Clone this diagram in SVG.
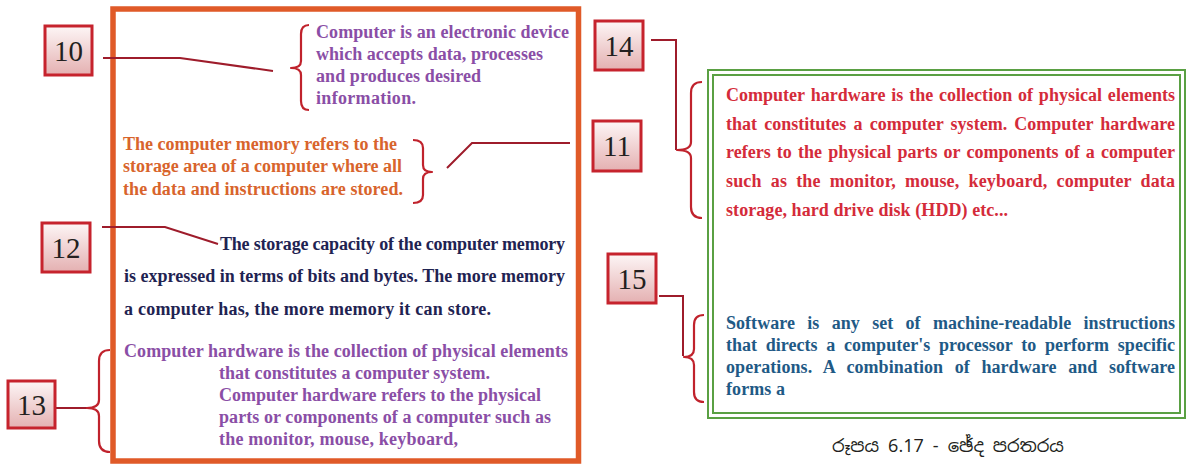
<svg xmlns="http://www.w3.org/2000/svg" width="1187" height="466" viewBox="0 0 1187 466">
<defs>
<linearGradient id="numGrad" x1="0" y1="0" x2="0" y2="1">
<stop offset="0" stop-color="#fdf6f6"/>
<stop offset="1" stop-color="#e4b0b1"/>
</linearGradient>
</defs>
<style>
.num rect {fill:url(#numGrad); stroke:#c6232d; stroke-width:3;}
.num text {font-family:"Liberation Serif", serif; font-size:29px; fill:#231f20; text-anchor:middle;}
.t {font-family:"Liberation Serif", serif; font-weight:bold; font-size:18px;}
.purple {fill:#8a4ea6;}
.orange {fill:#d8642c;}
.navy {fill:#1f2352;}
.red {fill:#d42b3a;}
.blue {fill:#1f5a86;}
.conn {fill:none; stroke:#9e1c2b; stroke-width:2;}
.brace {fill:none; stroke:#c0222c; stroke-width:2.2; stroke-linejoin:round;}
.frame {fill:none; stroke:#e05a28; stroke-width:5.5;}
.gframe {fill:none; stroke:#5aa043; stroke-width:2;}
.cap {font-family:"Noto Sans Sinhala","Noto Sans","DejaVu Sans",sans-serif; font-size:18px; fill:#231f20;}
</style>

<g id="frames">
<rect class="frame" x="113" y="9" width="465.5" height="452"/>
<rect class="gframe" x="708" y="70" width="477" height="348"/>
<rect class="gframe" x="713" y="75" width="467" height="338"/>
</g>

<g id="connectors">
<path class="conn" d="M103,58 L180,58 L273,71"/>
<path class="conn" d="M447,168 L472,143 L570,143"/>
<path class="conn" d="M102,227 L165,227 L218,244"/>
<path class="conn" d="M56,408 L87,408"/>
<path class="conn" d="M651,40 L676,40 L676,150"/>
<path class="conn" d="M659,296 L683,296 L683,356"/>
<path class="brace" d="M309,25 Q301,25 301,34 L301,61 Q301,68 291,68 Q301,68 301,75 L301,101 Q301,110 309,110"/>
<path class="brace" d="M413,140 Q423,140 423,148 L423,165 Q423,172 432,172 Q423,172 423,179 L423,195 Q423,203 413,203"/>
<path class="brace" d="M702,82 Q691,82 691,93 L691,142 Q691,150 677,150 Q691,150 691,158 L691,207 Q691,218 702,218"/>
<path class="brace" d="M704,315 Q694,315 694,325 L694,349 Q694,357 684,357 Q694,357 694,365 L694,392 Q694,402 704,402"/>
<path class="brace" d="M110,350 Q99,350 99,361 L99,400 Q99,408 87,408 Q99,408 99,416 L99,441 Q99,452 110,452"/>
</g>

<g id="node-10" class="num"><rect x="45" y="26" width="47" height="49"/><text x="68.5" y="61">10</text></g>
<g id="node-14" class="num"><rect x="595" y="21" width="48" height="49"/><text x="619" y="56">14</text></g>
<g id="node-11" class="num"><rect x="593" y="121" width="48" height="50"/><text x="617" y="156">11</text></g>
<g id="node-12" class="num"><rect x="42" y="223" width="48" height="49"/><text x="66" y="258">12</text></g>
<g id="node-13" class="num"><rect x="8" y="381" width="47" height="47"/><text x="31.5" y="415">13</text></g>
<g id="node-15" class="num"><rect x="608" y="254" width="48" height="49"/><text x="632" y="289">15</text></g>

<g id="text-computer" class="t purple">
<text x="316" y="38" textLength="253" lengthAdjust="spacing">Computer is an electronic device</text>
<text x="316" y="60" textLength="227" lengthAdjust="spacing">which accepts data, processes</text>
<text x="316" y="82" textLength="165" lengthAdjust="spacing">and produces desired</text>
<text x="316" y="104" textLength="100" lengthAdjust="spacing">information.</text>
</g>

<g id="text-memory" class="t orange">
<text x="123" y="150" textLength="274" lengthAdjust="spacing">The computer memory refers to the</text>
<text x="123" y="172" textLength="279" lengthAdjust="spacing">storage area of a computer where all</text>
<text x="123" y="195" textLength="280" lengthAdjust="spacing">the data and instructions are stored.</text>
</g>

<g id="text-capacity" class="t navy">
<text x="220" y="250" textLength="345" lengthAdjust="spacing">The storage capacity of the computer memory</text>
<text x="124" y="282" textLength="441" lengthAdjust="spacing">is expressed in terms of bits and bytes. The more memory</text>
<text x="124" y="315" textLength="367" lengthAdjust="spacing">a computer has, the more memory it can store.</text>
</g>

<g id="text-hardware-left" class="t purple">
<text x="124" y="357" textLength="444" lengthAdjust="spacing">Computer hardware is the collection of physical elements</text>
<text x="219" y="379" textLength="271" lengthAdjust="spacing">that constitutes a computer system.</text>
<text x="219" y="401" textLength="322" lengthAdjust="spacing">Computer hardware refers to the physical</text>
<text x="219" y="423" textLength="332" lengthAdjust="spacing">parts or components of a computer such as</text>
<text x="219" y="445" textLength="239" lengthAdjust="spacing">the monitor, mouse, keyboard,</text>
</g>

<g id="text-hardware-right" class="t red">
<text x="726" y="101" word-spacing="1.3" textLength="449" lengthAdjust="spacing">Computer hardware is the collection of physical elements</text>
<text x="726" y="130" word-spacing="2.6" textLength="449" lengthAdjust="spacing">that constitutes a computer system. Computer hardware</text>
<text x="726" y="158" word-spacing="1.6" textLength="449" lengthAdjust="spacing">refers to the physical parts or components of a computer</text>
<text x="726" y="187" word-spacing="4.5" textLength="449" lengthAdjust="spacing">such as the monitor, mouse, keyboard, computer data</text>
<text x="726" y="216" textLength="282" lengthAdjust="spacing">storage, hard drive disk (HDD) etc...</text>
</g>

<g id="text-software" class="t blue">
<text x="726" y="329" word-spacing="7.8" textLength="449" lengthAdjust="spacing">Software is any set of machine-readable instructions</text>
<text x="726" y="351" word-spacing="4.2" textLength="449" lengthAdjust="spacing">that directs a computer's processor to perform specific</text>
<text x="726" y="373" word-spacing="7" textLength="449" lengthAdjust="spacing">operations. A combination of hardware and software</text>
<text x="726" y="395" textLength="59" lengthAdjust="spacing">forms a</text>
</g>

<g id="caption">
<text class="cap" x="832" y="452">රූපය 6.17 - ඡේද පරතරය</text>
</g>
</svg>
